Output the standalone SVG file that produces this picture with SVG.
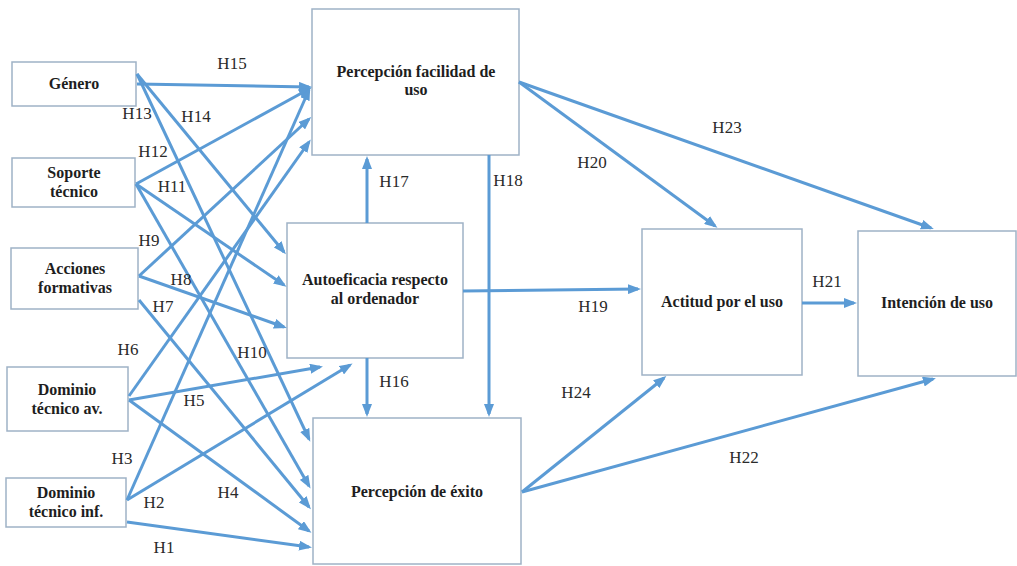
<svg xmlns="http://www.w3.org/2000/svg" width="1017" height="566" viewBox="0 0 1017 566">
<defs>
<style>
.box{fill:#ffffff;stroke:#9fb2c6;stroke-width:1.5}
.nt{font-weight:bold;font-size:16px;fill:#1e1e1e;text-anchor:middle}
.lb{font-size:17px;fill:#2a2a2a;text-anchor:middle}
.c{stroke:#5b9bd5;stroke-width:3;fill:none;marker-end:url(#ah)}
</style>
<marker id="ah" markerUnits="userSpaceOnUse" markerWidth="13" markerHeight="10" refX="10" refY="5" orient="auto">
<path d="M0,0 L13,5 L0,10 z" fill="#5b9bd5"/>
</marker>
</defs>
<rect width="1017" height="566" fill="#ffffff"/>
<g font-family="'Liberation Serif', 'Times New Roman', 'DejaVu Serif', serif">
<g id="n-genero"><rect class="box" x="12" y="62" width="124" height="44"/><text class="nt" x="74" y="89">Género</text></g>
<g id="n-soporte"><rect class="box" x="12" y="158" width="123" height="49"/><text class="nt" x="74" y="178">Soporte</text><text class="nt" x="74" y="197">técnico</text></g>
<g id="n-acciones"><rect class="box" x="11" y="248" width="127" height="61"/><text class="nt" x="75" y="274">Acciones</text><text class="nt" x="75" y="293">formativas</text></g>
<g id="n-dominio-av"><rect class="box" x="7" y="367" width="121" height="64"/><text class="nt" x="67" y="395">Dominio</text><text class="nt" x="67" y="414">técnico av.</text></g>
<g id="n-dominio-inf"><rect class="box" x="6" y="478" width="120" height="49"/><text class="nt" x="66" y="498">Dominio</text><text class="nt" x="66" y="517">técnico inf.</text></g>
<g id="n-facilidad"><rect class="box" x="312" y="9" width="207" height="146"/><text class="nt" x="416" y="77">Percepción facilidad de</text><text class="nt" x="416" y="95">uso</text></g>
<g id="n-autoeficacia"><rect class="box" x="287" y="223" width="176" height="135"/><text class="nt" x="375" y="285">Autoeficacia respecto</text><text class="nt" x="375" y="304">al ordenador</text></g>
<g id="n-exito"><rect class="box" x="313" y="418" width="208" height="146"/><text class="nt" x="417" y="497">Percepción de éxito</text></g>
<g id="n-actitud"><rect class="box" x="642" y="229" width="160" height="146"/><text class="nt" x="722" y="307">Actitud por el uso</text></g>
<g id="n-intencion"><rect class="box" x="858" y="231" width="158" height="145"/><text class="nt" x="937" y="308">Intención de uso</text></g>
<g id="connectors">
<line class="c" x1="137" y1="84" x2="309" y2="87"/>
<line class="c" x1="137" y1="74" x2="309" y2="439"/>
<line class="c" x1="137" y1="74" x2="284" y2="252"/>
<line class="c" x1="136" y1="184" x2="309" y2="89"/>
<line class="c" x1="136" y1="184" x2="284" y2="285"/>
<line class="c" x1="136" y1="184" x2="309" y2="486"/>
<line class="c" x1="139" y1="276" x2="309" y2="119"/>
<line class="c" x1="139" y1="276" x2="284" y2="327"/>
<line class="c" x1="139" y1="300" x2="309" y2="507"/>
<line class="c" x1="129" y1="396" x2="309" y2="142"/>
<line class="c" x1="129" y1="400" x2="320" y2="367"/>
<line class="c" x1="129" y1="400" x2="309" y2="531"/>
<line class="c" x1="127" y1="500" x2="309" y2="90"/>
<line class="c" x1="127" y1="500" x2="350" y2="365"/>
<line class="c" x1="127" y1="522" x2="309" y2="547"/>
<line class="c" x1="367" y1="223" x2="367" y2="159"/>
<line class="c" x1="489" y1="155" x2="489" y2="414"/>
<line class="c" x1="367" y1="358" x2="367" y2="414"/>
<line class="c" x1="463" y1="291" x2="638" y2="289"/>
<line class="c" x1="519" y1="82" x2="715" y2="226"/>
<line class="c" x1="519" y1="82" x2="931" y2="228"/>
<line class="c" x1="802" y1="303" x2="854" y2="303"/>
<line class="c" x1="522" y1="492" x2="664" y2="378"/>
<line class="c" x1="522" y1="492" x2="933" y2="379"/>
</g>
<g id="labels">
<text class="lb" x="232" y="69">H15</text>
<text class="lb" x="137" y="119">H13</text>
<text class="lb" x="196" y="122">H14</text>
<text class="lb" x="153" y="157">H12</text>
<text class="lb" x="172" y="192">H11</text>
<text class="lb" x="149" y="246">H9</text>
<text class="lb" x="181" y="285">H8</text>
<text class="lb" x="163" y="312">H7</text>
<text class="lb" x="128" y="355">H6</text>
<text class="lb" x="252" y="358">H10</text>
<text class="lb" x="194" y="406">H5</text>
<text class="lb" x="122" y="464">H3</text>
<text class="lb" x="228" y="498">H4</text>
<text class="lb" x="154" y="508">H2</text>
<text class="lb" x="164" y="553">H1</text>
<text class="lb" x="394" y="187">H17</text>
<text class="lb" x="508" y="186">H18</text>
<text class="lb" x="394" y="387">H16</text>
<text class="lb" x="592" y="168">H20</text>
<text class="lb" x="727" y="133">H23</text>
<text class="lb" x="593" y="312">H19</text>
<text class="lb" x="827" y="287">H21</text>
<text class="lb" x="576" y="398">H24</text>
<text class="lb" x="744" y="463">H22</text>
</g>
</g>
</svg>
